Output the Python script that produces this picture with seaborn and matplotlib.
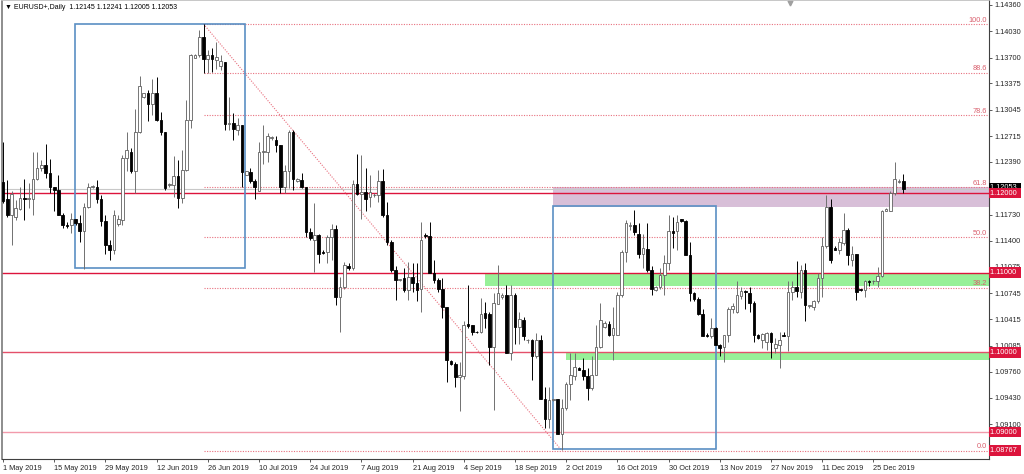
import numpy as np
import pandas as pd
import matplotlib
matplotlib.use('Agg')
import matplotlib.pyplot as plt
import matplotlib.transforms as mtransforms
from matplotlib.patches import Rectangle
import seaborn as sns

# daily bars, broker has sunday candles (no saturdays)
dates = [d for d in pd.date_range('2019-05-01', '2020-01-02') if d.weekday() != 5]

opens = [1.1214, 1.1192, 1.1172, 1.1170, 1.1180, 1.1194, 1.1193, 1.1193, 1.1217, 1.1231,
         1.1235, 1.1225, 1.1207, 1.1204, 1.1172, 1.1160, 1.1160, 1.1167, 1.1162, 1.1152,
         1.1182, 1.1207, 1.1208, 1.1192, 1.1165, 1.1135, 1.1128, 1.1161, 1.1166, 1.1244,
         1.1252, 1.1227, 1.1277, 1.1321, 1.1326, 1.1312, 1.1326, 1.1292, 1.1277, 1.1210,
         1.1210, 1.1221, 1.1194, 1.1229, 1.1292, 1.1370, 1.1373, 1.1396, 1.1368, 1.1373,
         1.1367, 1.1359, 1.1365, 1.1287, 1.1288, 1.1279, 1.1285, 1.1223, 1.1226, 1.1215,
         1.1202, 1.1252, 1.1252, 1.1269, 1.1267, 1.1260, 1.1208, 1.1227, 1.1277, 1.1215,
         1.1216, 1.1208, 1.1151, 1.1141, 1.1147, 1.1126, 1.1126, 1.1145, 1.1155, 1.1070,
         1.1082, 1.1108, 1.1106, 1.1211, 1.1199, 1.1201, 1.1195, 1.1197, 1.1198, 1.1215,
         1.1172, 1.1139, 1.1103, 1.1091, 1.1093, 1.1078, 1.1095, 1.1087, 1.1080, 1.1147,
         1.1146, 1.1099, 1.1091, 1.1080, 1.1057, 1.0989, 1.0986, 1.0969, 1.0970, 1.1035,
         1.1034, 1.1026, 1.1026, 1.1050, 1.1048, 1.1007, 1.1061, 1.1069, 1.1072, 1.0999,
         1.1072, 1.1032, 1.1041, 1.1015, 1.1015, 1.0995, 1.1016, 1.0942, 1.0917, 1.0940,
         1.0941, 1.0898, 1.0930, 1.0960, 1.0970, 1.0980, 1.0978, 1.0970, 1.0955, 1.0972,
         1.1007, 1.1032, 1.1036, 1.1022, 1.1022, 1.1072, 1.1126, 1.1158, 1.1160, 1.1149,
         1.1124, 1.1130, 1.1103, 1.1078, 1.1082, 1.1097, 1.1112, 1.1152, 1.1152, 1.1167,
         1.1165, 1.1122, 1.1074, 1.1067, 1.1048, 1.1022, 1.1020, 1.1031, 1.1009, 1.1007,
         1.1022, 1.1054, 1.1051, 1.1071, 1.1077, 1.1075, 1.1062, 1.1022, 1.1016, 1.1013,
         1.1024, 1.1005, 1.1009, 1.1022, 1.1021, 1.1076, 1.1082, 1.1076, 1.1103, 1.1058,
         1.1057, 1.1064, 1.1093, 1.1133, 1.1183, 1.1131, 1.1129, 1.1137, 1.1153, 1.1116,
         1.1123, 1.1079, 1.1078, 1.1089, 1.1089, 1.1089, 1.1096, 1.1178, 1.1178, 1.1200,
         1.1214, 1.12145]
highs = [1.1264, 1.1216, 1.1202, 1.1191, 1.1208, 1.1217, 1.1212, 1.1251, 1.1252, 1.1241,
         1.1262, 1.1243, 1.1208, 1.1223, 1.1175, 1.1164, 1.1175, 1.1168, 1.1172, 1.1187,
         1.1212, 1.1210, 1.1216, 1.1198, 1.1172, 1.1141, 1.1179, 1.1172, 1.1248, 1.1277,
         1.1256, 1.1306, 1.1347, 1.1326, 1.1329, 1.1343, 1.1345, 1.1302, 1.1277, 1.1212,
         1.1246, 1.1242, 1.1254, 1.1317, 1.1375, 1.1375, 1.1405, 1.1412, 1.1379, 1.1382,
         1.1390, 1.1373, 1.1365, 1.1321, 1.1300, 1.1294, 1.1285, 1.1228, 1.1231, 1.1218,
         1.1264, 1.1285, 1.1275, 1.1272, 1.1271, 1.1260, 1.1235, 1.1279, 1.1279, 1.1219,
         1.1225, 1.1208, 1.1156, 1.1187, 1.1149, 1.1128, 1.1147, 1.1161, 1.1160, 1.1095,
         1.1114, 1.1112, 1.1216, 1.1249, 1.1248, 1.1231, 1.1223, 1.1200, 1.1229, 1.1230,
         1.1189, 1.1141, 1.1108, 1.1092, 1.1106, 1.1114, 1.1112, 1.1112, 1.1164, 1.1150,
         1.1164, 1.1116, 1.1093, 1.1093, 1.1057, 1.0990, 1.0988, 1.0988, 1.1039, 1.1085,
         1.1034, 1.1027, 1.1068, 1.1063, 1.1051, 1.1074, 1.1110, 1.1074, 1.1085, 1.1085,
         1.1074, 1.1051, 1.1045, 1.1017, 1.1017, 1.1024, 1.1022, 1.0957, 1.0957, 1.0942,
         1.0942, 1.0942, 1.0963, 1.0999, 1.0999, 1.0982, 1.0993, 1.0980, 1.0995, 1.1034,
         1.1062, 1.1039, 1.1039, 1.1057, 1.1076, 1.1128, 1.1166, 1.1164, 1.1179, 1.1162,
         1.1149, 1.1162, 1.1109, 1.1083, 1.1106, 1.1122, 1.1172, 1.1170, 1.1172, 1.1168,
         1.1166, 1.1139, 1.1076, 1.1070, 1.1055, 1.1024, 1.1043, 1.1032, 1.1011, 1.1022,
         1.1057, 1.1062, 1.1089, 1.1082, 1.1078, 1.1082, 1.1064, 1.1023, 1.1024, 1.1025,
         1.1026, 1.1018, 1.1026, 1.1025, 1.1089, 1.1089, 1.1115, 1.1110, 1.1112, 1.1060,
         1.1066, 1.1099, 1.1145, 1.1198, 1.1193, 1.1133, 1.1143, 1.1175, 1.1156, 1.1133,
         1.1124, 1.1080, 1.1091, 1.1091, 1.1091, 1.1107, 1.1179, 1.1181, 1.1202, 1.1239,
         1.1218, 1.12241]
lows = [1.1187, 1.1170, 1.1135, 1.1166, 1.1179, 1.1166, 1.1181, 1.1172, 1.1216, 1.1227,
        1.1219, 1.1200, 1.1177, 1.1172, 1.1156, 1.1156, 1.1150, 1.1160, 1.1139, 1.1105,
        1.1181, 1.1206, 1.1187, 1.1158, 1.1124, 1.1116, 1.1124, 1.1158, 1.1160, 1.1227,
        1.1225, 1.1200, 1.1275, 1.1319, 1.1290, 1.1298, 1.1290, 1.1273, 1.1204, 1.1208,
        1.1195, 1.1181, 1.1187, 1.1227, 1.1281, 1.1369, 1.1371, 1.1350, 1.1350, 1.1352,
        1.1356, 1.1354, 1.1279, 1.1279, 1.1267, 1.1273, 1.1208, 1.1222, 1.1212, 1.1193,
        1.1202, 1.1237, 1.1239, 1.1267, 1.1252, 1.1200, 1.1200, 1.1206, 1.1204, 1.1214,
        1.1206, 1.1145, 1.1141, 1.1101, 1.1112, 1.1123, 1.1112, 1.1116, 1.1060, 1.1026,
        1.1080, 1.1103, 1.1103, 1.1197, 1.1168, 1.1177, 1.1183, 1.1195, 1.1189, 1.1170,
        1.1135, 1.1101, 1.1066, 1.1089, 1.1076, 1.1066, 1.1076, 1.1064, 1.1051, 1.1143,
        1.1099, 1.1087, 1.1076, 1.1043, 1.0963, 1.0984, 1.0957, 1.0926, 1.0967, 1.1030,
        1.1022, 1.1024, 1.1024, 1.1030, 1.0984, 1.0928, 1.1061, 1.1067, 1.0999, 1.0990,
        1.1011, 1.1011, 1.1016, 1.1012, 1.0965, 1.0993, 1.0942, 1.0905, 1.0905, 1.0939,
        1.0898, 1.0877, 1.0928, 1.0940, 1.0965, 1.0978, 1.0965, 1.0940, 1.0953, 1.0972,
        1.1005, 1.1030, 1.1020, 1.0990, 1.1022, 1.1070, 1.1114, 1.1154, 1.1147, 1.1118,
        1.1106, 1.1101, 1.1072, 1.1077, 1.1080, 1.1072, 1.1103, 1.1131, 1.1128, 1.1164,
        1.1122, 1.1064, 1.1064, 1.1047, 1.1020, 1.1019, 1.1018, 1.1009, 1.0995, 1.0988,
        1.1013, 1.1049, 1.1049, 1.1067, 1.1055, 1.1051, 1.1013, 1.1017, 1.1005, 1.1003,
        1.0993, 1.0999, 1.0980, 1.1020, 1.1002, 1.1066, 1.1070, 1.1068, 1.1039, 1.1056,
        1.1053, 1.1062, 1.1070, 1.1131, 1.1112, 1.1128, 1.1124, 1.1135, 1.1110, 1.1108,
        1.1066, 1.1077, 1.1070, 1.1083, 1.1086, 1.1082, 1.1094, 1.1177, 1.1177, 1.1198,
        1.1212, 1.12005]
closes = [1.1190, 1.1172, 1.1199, 1.1181, 1.1194, 1.1193, 1.1194, 1.1217, 1.1231, 1.1235,
          1.1225, 1.1207, 1.1204, 1.1172, 1.1160, 1.1159, 1.1167, 1.1162, 1.1152, 1.1182,
          1.1207, 1.1209, 1.1192, 1.1165, 1.1135, 1.1128, 1.1172, 1.1168, 1.1244, 1.1254,
          1.1227, 1.1277, 1.1334, 1.1326, 1.1312, 1.1326, 1.1292, 1.1277, 1.1206, 1.1211,
          1.1221, 1.1194, 1.1229, 1.1292, 1.1373, 1.1373, 1.1396, 1.1368, 1.1373, 1.1368,
          1.1371, 1.1366, 1.1287, 1.1288, 1.1280, 1.1285, 1.1226, 1.1227, 1.1215, 1.1207,
          1.1252, 1.1253, 1.1271, 1.1270, 1.1260, 1.1208, 1.1227, 1.1277, 1.1218, 1.1218,
          1.1208, 1.1151, 1.1143, 1.1147, 1.1124, 1.1125, 1.1145, 1.1155, 1.1070, 1.1082,
          1.1110, 1.1106, 1.1211, 1.1199, 1.1201, 1.1192, 1.1201, 1.1198, 1.1215, 1.1172,
          1.1139, 1.1103, 1.1091, 1.1091, 1.1078, 1.1095, 1.1087, 1.1078, 1.1141, 1.1146,
          1.1099, 1.1091, 1.1080, 1.1057, 1.0990, 1.0986, 1.0969, 1.0972, 1.1034, 1.1033,
          1.1026, 1.1025, 1.1048, 1.1043, 1.1007, 1.1062, 1.1075, 1.1072, 1.0999, 1.1072,
          1.1032, 1.1042, 1.1020, 1.1015, 1.0995, 1.1016, 1.0942, 1.0917, 1.0940, 1.0941,
          1.0898, 1.0930, 1.0960, 1.0971, 1.0982, 1.0978, 1.0970, 1.0955, 1.0972, 1.1007,
          1.1041, 1.1037, 1.1022, 1.1031, 1.1072, 1.1126, 1.1162, 1.1160, 1.1151, 1.1124,
          1.1131, 1.1103, 1.1080, 1.1082, 1.1097, 1.1112, 1.1152, 1.1150, 1.1163, 1.1165,
          1.1122, 1.1074, 1.1067, 1.1048, 1.1020, 1.1020, 1.1031, 1.1009, 1.1006, 1.1022,
          1.1054, 1.1058, 1.1072, 1.1077, 1.1076, 1.1062, 1.1022, 1.1018, 1.1023, 1.1024,
          1.1013, 1.1011, 1.1016, 1.1021, 1.1076, 1.1082, 1.1077, 1.1103, 1.1059, 1.1059,
          1.1064, 1.1093, 1.1133, 1.1183, 1.1116, 1.1129, 1.1138, 1.1153, 1.1122, 1.1123,
          1.1076, 1.1078, 1.1089, 1.1088, 1.1089, 1.1096, 1.1177, 1.1180, 1.1200, 1.1217,
          1.1215, 1.12053]

tick_labels = ['1 May 2019', '15 May 2019', '29 May 2019', '12 Jun 2019', '26 Jun 2019',
               '10 Jul 2019', '24 Jul 2019', '7 Aug 2019', '21 Aug 2019', '4 Sep 2019',
               '18 Sep 2019', '2 Oct 2019', '16 Oct 2019', '30 Oct 2019', '13 Nov 2019',
               '27 Nov 2019', '11 Dec 2019', '25 Dec 2019']
price_ticks = [1.14360, 1.14030, 1.13700, 1.13375, 1.13045, 1.12715, 1.12390, 1.11730,
               1.11400, 1.11075, 1.10745, 1.10415, 1.10085, 1.09760, 1.09430, 1.09100]

# horizontal levels drawn on the chart
levels = [1.12, 1.11, 1.10, 1.09]
level_colors = ['#DC143C', '#DC143C', '#E4506A', '#F29AAB']
bid = 1.12053

# fibo retracement from the june high to the october low
fib_hi, fib_lo = 1.14121, 1.08767
fib_x0, fib_x1 = 47, 131
fib_levels = [100.0, 88.6, 78.6, 61.8, 50.0, 38.2, 0.0]

# zones (start bar, low, high) and boxes (bar0, bar1, low, high)
zones = [(128.8, 1.11824, 1.12075, '#D8BFD8'),
         (113.0, 1.10830, 1.11000, '#98F098'),
         (131.9, 1.09904, 1.10000, '#98F098')]
boxes = [(16.9, 56.8, 1.11062, 1.14121),
         (128.8, 167.0, 1.08787, 1.11841)]

sns.set_theme(style='white')
plt.rcParams['font.family'] = ['Liberation Sans', 'DejaVu Sans']

df = pd.DataFrame({'date': dates, 'open': opens, 'high': highs, 'low': lows, 'close': closes})
df['x'] = np.arange(len(df))
bull = df['close'] >= df['open']

fig = plt.figure(figsize=(10.24, 4.74), dpi=100)
ax = fig.add_axes([2/1024, 15/474, 987/1024, 459/474])
xmin, xmax = -0.23, 231.1
ax.set_xlim(xmin, xmax)
ax.set_ylim(1.08662, 1.14422)

for x0, lo, hi, col in zones:
    ax.add_patch(Rectangle((x0, lo), xmax - x0, hi - lo, facecolor=col, edgecolor='none', zorder=1))

ax.axhline(bid, color='#C8C8C8', lw=0.8, zorder=1.5)
for lv, col in zip(levels, level_colors):
    ax.axhline(lv, color=col, lw=1.0, zorder=2)

rng = fib_hi - fib_lo
for f in fib_levels:
    p = fib_lo + f / 100 * rng
    ax.hlines(p, fib_x0, xmax, colors='#E8707F', linestyles=(0, (1, 1.3)), lw=0.8, zorder=2)
    ax.text(xmax - 0.4, p + 0.00004, f'{f:.1f}', ha='right', va='bottom', fontsize=5.3,
            color='#D9606E', zorder=6)
ax.plot([fib_x0, fib_x1], [fib_hi, fib_lo], ls=(0, (1, 1.3)), color='#E8707F', lw=0.8, zorder=2)

for b0, b1, lo, hi in boxes:
    ax.add_patch(Rectangle((b0, lo), b1 - b0, hi - lo, facecolor='none', edgecolor='#5A8FC4',
                           lw=1.2, zorder=2.5))

# candles
up, dn = df[bull], df[~bull]
ax.vlines(up['x'], up['low'], up['high'], color='#707070', lw=0.7, zorder=3)
ax.vlines(dn['x'], dn['low'], dn['high'], color='black', lw=0.7, zorder=3)
ax.bar(up['x'], np.maximum(up['close'] - up['open'], 0.00005), bottom=up['open'], width=0.62,
       color='white', edgecolor='#606060', lw=0.6, zorder=4)
ax.bar(dn['x'], np.maximum(dn['open'] - dn['close'], 0.00005), bottom=dn['close'], width=0.62,
       color='black', edgecolor='black', lw=0.6, zorder=4)

ax.text(0.003, 0.992, '▼ EURUSD+,Daily  1.12145 1.12241 1.12005 1.12053', transform=ax.transAxes,
        ha='left', va='top', fontsize=5, color='black')
ax.plot([184.4], [1.1439], marker='v', color='#A0A0A0', ms=3.5, clip_on=False)

# axes
ax.yaxis.tick_right()
ax.set_yticks(price_ticks)
ax.set_yticklabels([f'{v:.5f}' for v in price_ticks])
ax.set_xticks(range(0, 205, 12))
ax.set_xticklabels(tick_labels)
for lbl in ax.get_xticklabels():
    lbl.set_ha('left')
ax.tick_params(axis='y', right=True, length=2.5, width=0.6, labelsize=5.3, pad=1.5, color='#404040')
ax.tick_params(axis='x', bottom=True, length=2.5, width=0.6, labelsize=5.3, pad=1.5, color='#404040')
ax.spines['left'].set_color('#808080')
ax.spines['top'].set_color('#C0C0C0')
for s in ['right', 'bottom']:
    ax.spines[s].set_color('#404040')
    ax.spines[s].set_linewidth(0.8)

# price labels on the right axis
trans = mtransforms.blended_transform_factory(ax.transAxes, ax.transData)
ax.text(1.0015, bid + 0.0001, f'{bid:.5f} ', transform=trans, ha='left', va='center', fontsize=5.3,
        color='white', bbox=dict(boxstyle='square,pad=0.25', fc='black', ec='none'), clip_on=False, zorder=9)
for p in levels + [fib_lo]:
    ax.text(1.0015, p, f'{p:.5f} ', transform=trans, ha='left', va='center', fontsize=5.3, color='white',
            bbox=dict(boxstyle='square,pad=0.25', fc='#DC143C', ec='none'), clip_on=False, zorder=10)

fig.savefig('out.png', dpi=100)
